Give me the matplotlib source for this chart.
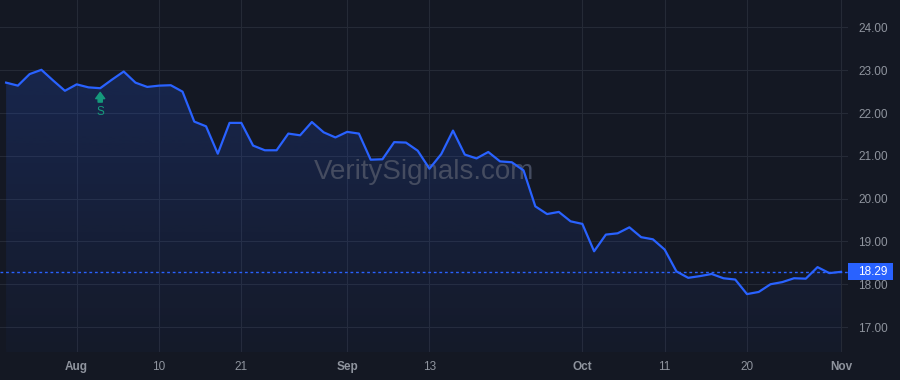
import numpy as np
import matplotlib
matplotlib.use("Agg")
import matplotlib.pyplot as plt
from matplotlib.patches import Rectangle

# ---- data (trading days 2023-07-24 .. 2023-11-01) ----
values = [22.71, 22.64, 22.91, 23.01, 22.76, 22.52, 22.67, 22.60, 22.58, 22.78,
          22.97, 22.71, 22.61, 22.64, 22.65, 22.50, 21.80, 21.69, 21.05, 21.77,
          21.77, 21.24, 21.13, 21.13, 21.52, 21.48, 21.79, 21.55, 21.43, 21.56,
          21.52, 20.91, 20.92, 21.32, 21.31, 21.12, 20.70, 21.04, 21.59, 21.03,
          20.94, 21.09, 20.87, 20.85, 20.66, 19.82, 19.64, 19.69, 19.47, 19.41,
          18.77, 19.16, 19.19, 19.33, 19.10, 19.05, 18.81, 18.30, 18.15, 18.19,
          18.24, 18.14, 18.11, 17.77, 17.82, 18.00, 18.05, 18.14, 18.13, 18.40,
          18.26, 18.29]
tick_idx = [6, 13, 20, 29, 36, 49, 56, 63, 71]
tick_labels = ["Aug", "10", "21", "Sep", "13", "Oct", "11", "20", "Nov"]
month_labels = {"Aug", "Sep", "Oct", "Nov"}
y_ticks = [17, 18, 19, 20, 21, 22, 23, 24]
signal_idx = 8
signal_text = "S"
watermark = "VeritySignals.com"

BG = "#141823"
GRID = "#252a36"
BLUE = "#2962ff"
LABEL = "#8f949e"
GREEN = "#159a7c"

plt.rcParams["font.family"] = ["Liberation Sans", "DejaVu Sans"]

fig = plt.figure(figsize=(9, 3.8), dpi=100, facecolor=BG)
ax = fig.add_axes([0.0, 28 / 380, 848 / 900, 352 / 380], facecolor=BG)

x = np.arange(len(values))
y = np.array(values)
ymin, ymax = 16.417, 24.641
xmin, xmax = -0.52, 71.59

# gradient fill under the line
poly = ax.fill_between(x, y, ymin, facecolor="none", edgecolor="none")
grad = np.zeros((256, 1, 4))
grad[..., 0], grad[..., 1], grad[..., 2] = 41 / 255, 98 / 255, 1.0
grad[:, 0, 3] = np.linspace(0.03, 0.23, 256)
im = ax.imshow(grad, extent=[xmin, xmax, ymin, ymax], origin="lower",
               aspect="auto", zorder=1, interpolation="bilinear")
im.set_clip_path(poly.get_paths()[0], transform=ax.transData)

# watermark
ax.text(0.5, 0.51, watermark, transform=ax.transAxes, ha="center", va="center",
        fontsize=20, color="#454c60", zorder=2)

# line
ax.plot(x, y, color=BLUE, lw=1.6, zorder=4, solid_joinstyle="round")

# last price dotted line + label
last = values[-1]
ax.axhline(last, color=BLUE, lw=1.0, ls=(0, (2, 2)), zorder=3)
ax.add_patch(Rectangle((1.0, last - 0.2), 45 / 848, 0.4,
                       transform=ax.get_yaxis_transform(), clip_on=False,
                       facecolor=BLUE, edgecolor="none", zorder=5))
ax.annotate(f"{last:.2f}", xy=(1.0, last), xycoords=("axes fraction", "data"),
            xytext=(7.4, 0), textcoords="offset points", ha="left", va="center",
            fontsize=8.5, color="white", zorder=6, annotation_clip=False)

# signal marker
sv = values[signal_idx]
ax.annotate("", xy=(signal_idx, sv), xytext=(0, -10), textcoords="offset points",
            xycoords="data",
            arrowprops=dict(arrowstyle="simple,head_width=0.65,head_length=0.45,tail_width=0.3",
                            color=GREEN, shrinkA=0, shrinkB=3), zorder=5)
ax.annotate(signal_text, xy=(signal_idx, sv), xytext=(0, -17), textcoords="offset points",
            ha="center", va="center", fontsize=8.5, color=GREEN, zorder=5)

# axes styling
ax.set_xlim(xmin, xmax)
ax.set_ylim(ymin, ymax)
ax.set_xticks(tick_idx)
ax.set_xticklabels(tick_labels)
for lab in ax.get_xticklabels():
    if lab.get_text() in month_labels:
        lab.set_fontweight("bold")
ax.set_yticks(y_ticks)
ax.set_yticklabels([f"{v:.2f}" for v in y_ticks])
ax.yaxis.tick_right()
ax.tick_params(axis="both", length=0, labelsize=8.5, labelcolor=LABEL)
ax.tick_params(axis="y", pad=7.4)
ax.tick_params(axis="x", pad=6.5)
ax.grid(True, color=GRID, lw=0.8)
ax.set_axisbelow(True)
for s in ax.spines.values():
    s.set_visible(False)

fig.savefig("out.png", dpi=100, facecolor=BG)
